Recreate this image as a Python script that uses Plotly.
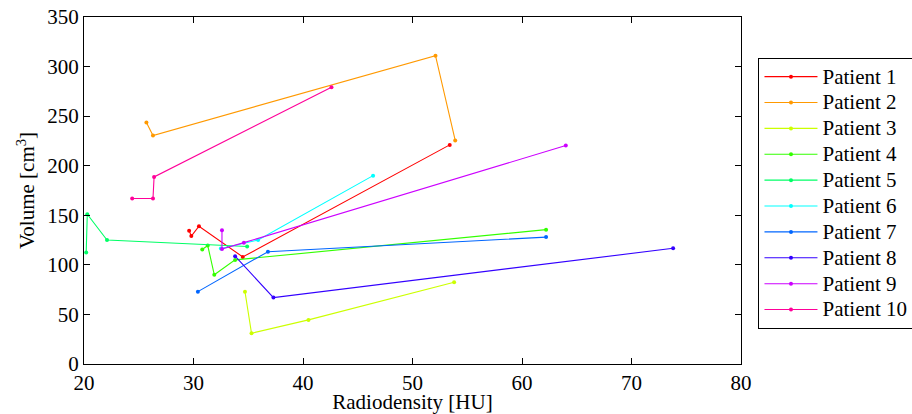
import plotly.graph_objects as go

names = ["Patient 1", "Patient 2", "Patient 3", "Patient 4", "Patient 5",
         "Patient 6", "Patient 7", "Patient 8", "Patient 9", "Patient 10"]

radiodensity = [
    [29.6, 29.8, 30.5, 34.5, 53.4],
    [25.7, 26.3, 52.1, 53.9],
    [34.7, 35.3, 40.5, 53.8],
    [30.8, 31.3, 31.9, 33.8, 62.2],
    [20.2, 20.3, 22.1, 34.9],
    [32.5, 35.9, 46.4],
    [30.4, 36.8, 62.2],
    [33.8, 37.3, 73.8],
    [32.6, 32.6, 34.6, 64.0],
    [24.4, 26.3, 26.4, 42.6],
]

volume = [
    [134.5, 129, 139, 108, 221],
    [243.5, 230.5, 311, 225.5],
    [73, 31, 44.5, 82.5],
    [115.5, 119.5, 90, 105, 135.5],
    [112.5, 151, 125, 118.5],
    [116.5, 125, 190],
    [73, 113.3, 128],
    [108.7, 67, 116.7],
    [135, 116, 122.4, 220.3],
    [167, 167, 188.7, 279.2],
]

colors = ["#ff0000", "#ff9900", "#ccff00", "#33ff00", "#00ff66",
          "#00ffff", "#0066ff", "#3300ff", "#cc00ff", "#ff0099"]

FONT = "Liberation Serif, Times New Roman, serif"

fig = go.Figure()
for n, xs, ys, c in zip(names, radiodensity, volume, colors):
    fig.add_trace(go.Scatter(
        x=xs, y=ys, name='<span style="font-size:21px">' + n + '</span>',
        mode="lines+markers",
        line=dict(color=c, width=1.1),
        marker=dict(color=c, size=4),
    ))

axis_common = dict(
    showgrid=False, zeroline=False, showline=True, linecolor="black",
    linewidth=1, mirror="ticks", ticks="inside", ticklen=6,
    tickcolor="black", automargin=False,
    tickfont=dict(family=FONT, size=21, color="black"),
)

fig.update_xaxes(range=[20, 80], dtick=10, tick0=20,
                 title=dict(text="Radiodensity [HU]", standoff=12,
                            font=dict(family=FONT, size=21, color="black")),
                 **axis_common)
fig.update_yaxes(range=[0, 350], dtick=50, tick0=0,
                 title=dict(text="Volume [cm<sup>3</sup>]", standoff=6,
                            font=dict(family=FONT, size=21, color="black")),
                 **axis_common)

fig.update_layout(
    width=912, height=414,
    margin=dict(l=84, r=171, t=17, b=50, autoexpand=False),
    paper_bgcolor="white", plot_bgcolor="white",
    font=dict(family=FONT, size=21, color="black"),
    legend=dict(
        x=1.0266, y=0.8827, xanchor="left", yanchor="top",
        bordercolor="black", borderwidth=1, bgcolor="white",
        font=dict(family=FONT, size=17.6, color="black"),
        tracegroupgap=0, itemwidth=53,
    ),
    showlegend=True,
)

fig.write_html("out.html", config={"displayModeBar": False},
               post_script="document.body.style.margin='0px';")
